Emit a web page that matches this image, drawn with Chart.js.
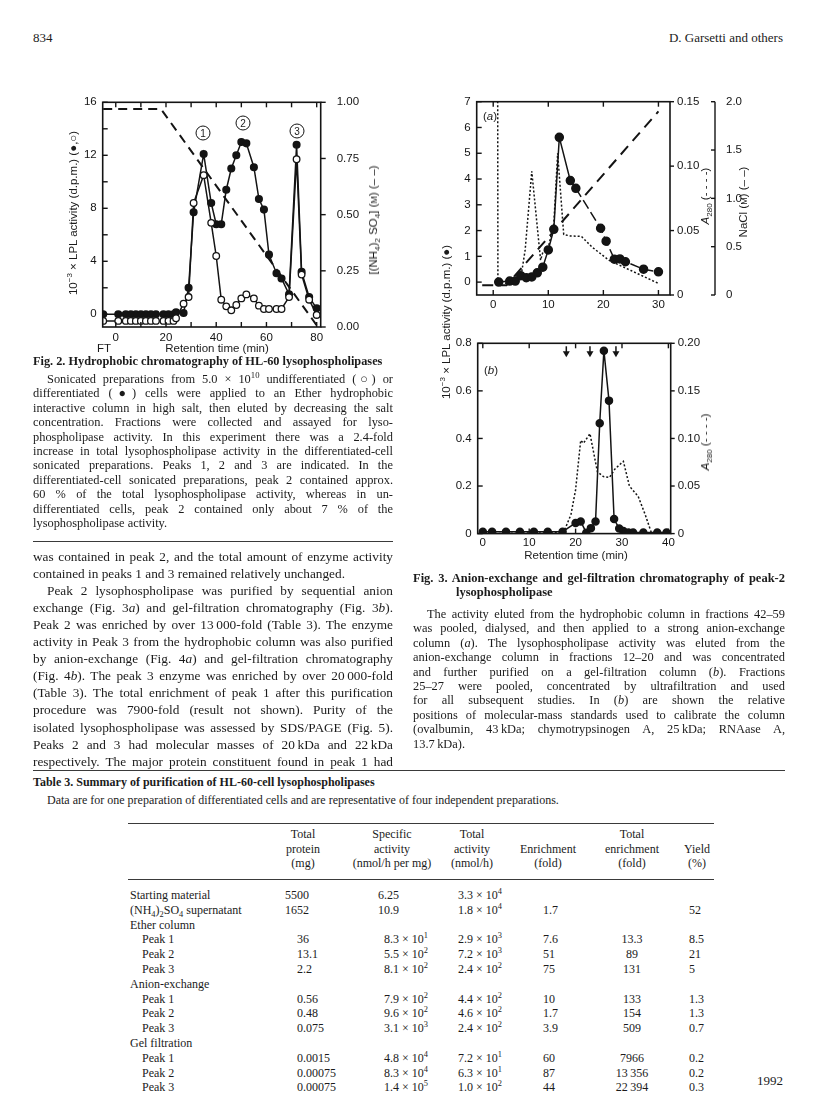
<!DOCTYPE html>
<html>
<head>
<meta charset="utf-8">
<script src="https://cdn.jsdelivr.net/npm/chart.js@4.4.1/dist/chart.umd.min.js"></script>
<style>
  body { margin:0; width:816px; height:1108px; position:relative; background:#fff; color:#1b1b1b;
         font-family:"Liberation Serif","Times New Roman",serif; overflow:hidden; }
  .a { position:absolute; white-space:nowrap; }
  .j { white-space:normal; text-align:justify; text-align-last:justify; }
  canvas { position:absolute; }
  .sans { font-family:"Liberation Sans",Arial,sans-serif; font-size:11.5px; }
  .rot { transform:translate(-50%,-50%) rotate(-90deg); }
  .mid { transform:translate(-50%,-50%); }
  .circ { position:absolute; width:13px; height:13px; border:1.2px solid #141414; border-radius:50%;
          font:10px "Liberation Sans",Arial,sans-serif; text-align:center; line-height:13px; transform:translate(-50%,-50%); }
  .rule { position:absolute; height:0; border-top:1px solid #3a3a3a; }
  sup, sub { font-size:70%; line-height:0; }
</style>
</head>
<body>

<div class="a" style="left:33px;top:30px;font-size:13px">834</div>
<div class="a" style="right:33px;top:30px;font-size:13px">D. Garsetti and others</div>

<canvas id="fig2" width="350" height="275" style="left:40px;top:88px"></canvas>
<canvas id="fig3a" width="345" height="230" style="left:420px;top:85px"></canvas>
<canvas id="fig3b" width="345" height="245" style="left:420px;top:330px"></canvas>

<!-- axis titles and marks around the charts -->
<div class="a sans rot" style="left:73px;top:213px">10<sup>−3</sup> × LPL activity (d.p.m.) (●,○)</div>
<div class="a sans rot" style="left:373px;top:220px">[(NH<sub>4</sub>)<sub>2</sub> SO<sub>4</sub>] (<span style="font-size:9px">M</span>) (– –)</div>
<div class="a sans mid" style="left:104px;top:348px">FT</div>
<div class="a sans mid" style="left:217px;top:348px">Retention time (min)</div>
<div class="circ" style="left:203px;top:133px">1</div>
<div class="circ" style="left:243px;top:123px">2</div>
<div class="circ" style="left:297px;top:131px">3</div>

<div class="a sans rot" style="left:446px;top:322px">10<sup>−3</sup> × LPL activity (d.p.m.) (●)</div>
<div class="a sans rot" style="left:705px;top:196px"><i>A</i><sub>280</sub> (- - - -)</div>
<div class="a sans rot" style="left:743px;top:202px">NaCl (<span style="font-size:9px">M</span>) (– –)</div>
<div class="a sans rot" style="left:705px;top:442px"><i>A</i><sub>280</sub> (- - - -)</div>
<div class="a sans mid" style="left:490px;top:116px">(<i>a</i>)</div>
<div class="a sans mid" style="left:491px;top:370px">(<i>b</i>)</div>
<div class="a sans mid" style="left:576px;top:555px">Retention time (min)</div>

<div id="text"></div>

<script>
// ---- Fig. 2: hydrophobic chromatography ----
const f2Time = [-5, 1, 4, 6, 8, 10, 12, 14, 16, 19, 21, 23, 24, 27, 29, 31, 35, 38, 40, 42, 44, 46, 48, 50, 52, 55, 57, 59, 61, 64, 66, 69, 72, 74, 77, 80];
const f2Differentiated = [0, 0, 0, 0, 0, 0, 0, 0, 0, 0, 0, 0, 0.15, 0.1, 2.0, 7.7, 12.1, 8.4, 6.8, 6.8, 9.4, 11.0, 12.0, 13.0, 12.9, 11.1, 8.7, 7.9, 4.5, 3.1, 2.7, 1.5, 12.8, 3.2, 1.3, 0.45];
const f2Undifferentiated = [-0.5, -0.5, -0.5, -0.5, -0.5, -0.5, -0.5, -0.5, -0.5, -0.5, -0.5, -0.5, -0.3, 0.8, 1.3, 8.4, 10.5, 6.9, 4.4, 1.1, 0.6, 0.3, 0.7, 1.2, 1.5, 1.2, 0.65, 0.4, 0.4, 0.4, 0.4, 1.3, 11.7, 3.0, 1.1, -0.05];
const f2SaltTime = [-5, 18, 80.5];
const f2Salt = [0.97, 0.97, 0.0];
const f2XTicks = [0, 10, 20, 30, 40, 50, 60, 70, 80];
const f2YTicks = [0, 2, 4, 6, 8, 10, 12, 14, 16];
const f2SaltTicks = [0, 0.25, 0.5, 0.75, 1.0];

// ---- Fig. 3(a): anion exchange ----
const f3aTime = [1, 3, 4, 5, 6, 7, 8, 9, 10, 11, 12, 14, 15, 19.5, 20.5, 22, 23, 24, 27.3, 30];
const f3aActivity = [0, 0.04, 0.04, 0.25, 0.17, 0.2, 0.36, 0.58, 1.25, 2.05, 5.62, 3.94, 3.64, 2.09, 1.59, 0.89, 0.9, 0.79, 0.5, 0.4];
const f3aA280Time = [0.8, 0.85, 2, 4, 5, 5.8, 7, 8.6, 9, 10, 11, 11.7, 12.8, 14, 16, 18, 21, 25, 30];
const f3aA280 = [0.2, 0.01, 0.009, 0.01, 0.013, 0.035, 0.096, 0.027, 0.033, 0.037, 0.055, 0.11, 0.047, 0.0458, 0.0455, 0.037, 0.027, 0.019, 0.009];
const f3aNaClTime = [-2, 2.4, 30];
const f3aNaCl = [0.1, 0.1, 1.9];
const f3aXTicks = [0, 10, 20, 30];
const f3aYTicks = [0, 1, 2, 3, 4, 5, 6, 7];
const f3aA280Ticks = [0, 0.05, 0.1, 0.15];
const f3aA280Labels = ['0', '0.05', '0.10', '0.15'];
const f3aNaClTicks = [0, 0.5, 1, 1.5, 2];
const f3aNaClLabels = ['0', '0.5', '1.0', '1.5', '2.0'];

// ---- Fig. 3(b): gel filtration ----
const f3bTime = [0, 2, 5, 8, 11, 14, 17.2, 20, 21.1, 22.3, 23.3, 24.3, 25.2, 26.1, 27.2, 28.3, 29.4, 30.3, 31.4, 32.4, 34.6, 37.6, 39.6];
const f3bActivity = [0.008, 0.008, 0.008, 0.008, 0.008, 0.008, 0.008, 0.045, 0.051, 0.004, 0.023, 0.051, 0.464, 0.769, 0.559, 0.061, 0.021, 0.011, 0.005, 0.005, 0.005, 0.005, 0.005];
const f3bA280Time = [0, 17.4, 19, 20, 21.1, 21.7, 23.1, 24.1, 24.7, 26, 27.3, 28.5, 30.3, 31.6, 33.5, 35, 36.4];
const f3bA280 = [0, 0.001, 0.02, 0.046, 0.098, 0.095, 0.105, 0.08, 0.065, 0.06, 0.059, 0.068, 0.076, 0.05, 0.039, 0.02, 0];
const f3bStandards = [18, 23.1, 28.7];
const f3bXTicks = [0, 10, 20, 30, 40];
const f3bYTicks = [0, 0.2, 0.4, 0.6, 0.8];
const f3bYLabels = ['0', '0.2', '0.4', '0.6', '0.8'];
const f3bA280Ticks = [0, 0.05, 0.1, 0.15, 0.2];
const f3bA280Labels = ['0', '0.05', '0.10', '0.15', '0.20'];

const ink = '#141414';
const tickFont = { family: 'Liberation Sans, Arial, sans-serif', size: 11.5 };
const pts = (xs, ys) => xs.map((x, i) => ({ x: x, y: ys[i] }));

// tick marks per chart, kept outside the Chart.js options
const frameMarks = {
  fig2: [
    { scale: 'y', side: 'left', len: 5 },
    { scale: 'x', side: 'top', len: 5 },
    { scale: 'x', side: 'bottom', len: 5 },
    { scale: 'y2', side: 'right', len: 5 }
  ],
  fig3a: [
    { scale: 'y', side: 'left', len: 5 },
    { scale: 'x', side: 'bottom', len: 5 },
    { scale: 'x', side: 'top', len: 5 },
    { scale: 'yA', side: 'right', len: 4 },
    { scale: 'yN', side: 'spine', len: 4 }
  ],
  fig3b: [
    { scale: 'y', side: 'left', len: 5 },
    { scale: 'x', side: 'bottom', len: 5 },
    { scale: 'x', side: 'top', len: 5 },
    { scale: 'yA', side: 'right', len: 4 }
  ]
};
const arrowMarks = { fig3b: f3bStandards };

// box round the plot, plus the tick marks the scan shows (mostly pointing inward)
const framePlugin = {
  id: 'frame',
  afterDraw(chart) {
    const ctx = chart.ctx, a = chart.chartArea;
    ctx.save();
    ctx.strokeStyle = ink;
    ctx.lineWidth = 1.6;
    ctx.strokeRect(a.left, a.top, a.right - a.left, a.bottom - a.top);
    ctx.lineWidth = 1.4;
    (frameMarks[chart.canvas.id] || []).forEach(m => {
      const s = chart.scales[m.scale];
      const vals = s.ticks.map(t => t.value);
      if (m.side === 'spine') {
        ctx.beginPath(); ctx.moveTo(s.left, a.top); ctx.lineTo(s.left, a.bottom); ctx.stroke();
      }
      vals.forEach(v => {
        const p = s.getPixelForValue(v);
        ctx.beginPath();
        if (m.side === 'left') { ctx.moveTo(a.left, p); ctx.lineTo(a.left + m.len, p); }
        if (m.side === 'right') { ctx.moveTo(a.right, p); ctx.lineTo(a.right + m.len, p); }
        if (m.side === 'bottom') { ctx.moveTo(p, a.bottom); ctx.lineTo(p, a.bottom - m.len); }
        if (m.side === 'top') { ctx.moveTo(p, a.top); ctx.lineTo(p, a.top + m.len); }
        if (m.side === 'spine') { ctx.moveTo(s.left, p); ctx.lineTo(s.left - m.len, p); }
        ctx.stroke();
      });
    });
    // downward arrows for the molecular-mass standards in (b)
    const xs = arrowMarks[chart.canvas.id];
    if (xs) {
      const top = a.top, sx = chart.scales.x;
      ctx.fillStyle = ink; ctx.lineWidth = 1.5;
      xs.forEach(v => {
        const p = sx.getPixelForValue(v);
        ctx.beginPath(); ctx.moveTo(p, top + 3); ctx.lineTo(p, top + 9); ctx.stroke();
        ctx.beginPath(); ctx.moveTo(p - 3.5, top + 8); ctx.lineTo(p + 3.5, top + 8); ctx.lineTo(p, top + 14); ctx.closePath(); ctx.fill();
      });
    }
    ctx.restore();
  }
};

function axis(pos, min, max, ticks, label, size, pad) {
  const vertical = pos === 'left' || pos === 'right';
  return {
    type: 'linear', position: pos, min: min, max: max,
    grid: { display: false, drawTicks: false }, border: { display: false },
    afterBuildTicks: s => { s.ticks = ticks.map(v => ({ value: v })); },
    afterFit: s => {
      if (vertical) {
        s.width = size;
        // label padding would otherwise push the plot area down
        s.paddingTop = 0; s.paddingBottom = 0;
      } else {
        s.height = size;
      }
    },
    ticks: { callback: label, padding: pad, autoSkip: false, maxRotation: 0, color: ink, font: tickFont }
  };
}

function chart(id, datasets, scales, padTop) {
  return new Chart(document.getElementById(id), {
    type: 'scatter',
    data: { datasets: datasets },
    options: {
      responsive: false, animation: false, devicePixelRatio: 1,
      layout: { padding: { top: padTop, left: 0, right: 0, bottom: 0 } },
      plugins: { legend: { display: false }, tooltip: { enabled: false } },
      scales: scales
    },
    plugins: [framePlugin]
  });
}

const line = (data, extra) => Object.assign({ data: data, showLine: true, borderColor: ink, borderWidth: 1.5, pointRadius: 0 }, extra);

chart('fig2', [
  line(pts(f2Time, f2Undifferentiated), { pointRadius: 3.3, pointBackgroundColor: '#fff', pointBorderColor: ink, pointBorderWidth: 1.3 }),
  line(pts(f2Time, f2Differentiated), { pointRadius: 3.3, pointBackgroundColor: ink, pointBorderColor: ink }),
  line(pts(f2SaltTime, f2Salt), { yAxisID: 'y2', borderDash: [9, 6], borderWidth: 2 })
], {
  x: axis('bottom', -5.2, 81.6, f2XTicks, v => (v % 20 === 0 ? v : ''), 36, 4),
  y: axis('left', -0.96, 16, f2YTicks, v => (v % 4 === 0 ? v : ''), 62.7, 6),
  y2: axis('right', 0, 1, f2SaltTicks, v => v.toFixed(2), 69.3, 16)
}, 14.3);

chart('fig3a', [
  line(pts(f3aTime, f3aActivity), { pointRadius: 4, pointBackgroundColor: ink,
    segment: { borderDash: c => (c.p0DataIndex >= 12 ? [10, 4] : undefined) } }),
  line(pts(f3aA280Time, f3aA280), { yAxisID: 'yA', borderDash: [2, 2], borderWidth: 1.5 }),
  line(pts(f3aNaClTime, f3aNaCl), { yAxisID: 'yN', borderDash: [11, 7], borderWidth: 2 })
], {
  x: axis('bottom', -3, 32.1, f3aXTicks, v => v, 20, 3),
  y: axis('left', -0.5, 7, f3aYTicks, v => v, 56.7, 6),
  yA: Object.assign(axis('right', 0, 0.15, f3aA280Ticks, (v, i) => f3aA280Labels[i], 45, 7), { weight: 0 }),
  yN: Object.assign(axis('right', 0, 2, f3aNaClTicks, (v, i) => f3aNaClLabels[i], 50, 11), { weight: 1 })
}, 16.7);

chart('fig3b', [
  line(pts(f3bTime, f3bActivity), { pointRadius: 3.5, pointBackgroundColor: ink }),
  line(pts(f3bA280Time, f3bA280), { yAxisID: 'yA', borderDash: [2, 2], borderWidth: 1.5 })
], {
  x: axis('bottom', -1.1, 40.5, f3bXTicks, v => v, 41.4, 2),
  y: axis('left', 0, 0.8, f3bYTicks, (v, i) => f3bYLabels[i], 57.7, 6),
  yA: axis('right', 0, 0.2, f3bA280Ticks, (v, i) => f3bA280Labels[i], 94.3, 7)
}, 13.3);

// ---- page text ----
const host = document.getElementById('text');
function block(lines, o) {
  lines.forEach((t, i) => {
    const d = document.createElement('div');
    const ind = i === 0 && o.indent ? o.indent : 0;
    d.className = 'a' + ((i < lines.length - 1 || o.justLast) ? ' j' : '');
    d.style.cssText = 'left:' + (o.x + ind) + 'px;top:' + (o.y + i * o.lh) + 'px;width:' + (o.w - ind) +
      'px;font-size:' + o.size + 'px;line-height:' + o.lh + 'px;' + (o.bold ? 'font-weight:bold;' : '') + (o.align ? 'text-align:' + o.align + ';' : '');
    d.innerHTML = t;
    host.appendChild(d);
  });
}
function rule(x, y, w) {
  const d = document.createElement('div');
  d.className = 'rule';
  d.style.cssText = 'left:' + x + 'px;top:' + y + 'px;width:' + w + 'px';
  host.appendChild(d);
}

block(['Fig. 2. Hydrophobic chromatography of HL-60 lysophospholipases'], { x: 33, y: 354, w: 360, lh: 14, size: 12.3, bold: true });
block([
  'Sonicated preparations from 5.0 × 10<sup>10</sup> undifferentiated (○) or',
  'differentiated (●) cells were applied to an Ether hydrophobic',
  'interactive column in high salt, then eluted by decreasing the salt',
  'concentration. Fractions were collected and assayed for lyso-',
  'phospholipase activity. In this experiment there was a 2.4-fold',
  'increase in total lysophospholipase activity in the differentiated-cell',
  'sonicated preparations. Peaks 1, 2 and 3 are indicated. In the',
  'differentiated-cell sonicated preparations, peak 2 contained approx.',
  '60 % of the total lysophospholipase activity, whereas in un-',
  'differentiated cells, peak 2 contained only about 7 % of the',
  'lysophospholipase activity.'
], { x: 33, y: 372, w: 360, lh: 14.4, size: 12.4, indent: 14 });
rule(33, 541, 360);

block([
  'was contained in peak 2, and the total amount of enzyme activity',
  'contained in peaks 1 and 3 remained relatively unchanged.'
], { x: 33, y: 547.5, w: 360, lh: 17.1, size: 13.3 });
block([
  'Peak 2 lysophospholipase was purified by sequential anion',
  'exchange (Fig. 3<i>a</i>) and gel-filtration chromatography (Fig. 3<i>b</i>).',
  'Peak 2 was enriched by over 13\u2009000-fold (Table 3). The enzyme',
  'activity in Peak 3 from the hydrophobic column was also purified',
  'by anion-exchange (Fig. 4<i>a</i>) and gel-filtration chromatography',
  '(Fig. 4<i>b</i>). The peak 3 enzyme was enriched by over 20\u2009000-fold',
  '(Table 3). The total enrichment of peak 1 after this purification',
  'procedure was 7900-fold (result not shown). Purity of the',
  'isolated lysophospholipase was assessed by SDS/PAGE (Fig. 5).',
  'Peaks 2 and 3 had molecular masses of 20\u2009kDa and 22\u2009kDa',
  'respectively. The major protein constituent found in peak 1 had'
], { x: 33, y: 547.5 + 2 * 17.1, w: 360, lh: 17.1, size: 13.3, indent: 14, justLast: true });

block(['Fig. 3. Anion-exchange and gel-filtration chromatography of peak-2'], { x: 413, y: 571, w: 372, lh: 14, size: 12.5, bold: true, justLast: true });
block(['lysophospholipase'], { x: 456, y: 585, w: 300, lh: 14, size: 12.5, bold: true });
block([
  'The activity eluted from the hydrophobic column in fractions 42–59',
  'was pooled, dialysed, and then applied to a strong anion-exchange',
  'column (<i>a</i>). The lysophospholipase activity was eluted from the',
  'anion-exchange column in fractions 12–20 and was concentrated',
  'and further purified on a gel-filtration column (<i>b</i>). Fractions',
  '25–27 were pooled, concentrated by ultrafiltration and used',
  'for all subsequent studies. In (<i>b</i>) are shown the relative',
  'positions of molecular-mass standards used to calibrate the column',
  '(ovalbumin, 43\u2009kDa; chymotrypsinogen A, 25\u2009kDa; RNAase A,',
  '13.7\u2009kDa).'
], { x: 413, y: 607, w: 372, lh: 14.4, size: 12.4, indent: 14 });
rule(33, 770, 752);

// ---- Table 3 ----
block(['Table 3. Summary of purification of HL-60-cell lysophospholipases'], { x: 33, y: 775, w: 600, lh: 14, size: 12, bold: true });
block(['Data are for one preparation of differentiated cells and are representative of four independent preparations.'], { x: 47, y: 793, w: 720, lh: 14, size: 12 });
rule(128, 823, 586);
rule(128, 879, 586);

const tableHead = [
  ['Total', 'protein', '(mg)'], ['Specific', 'activity', '(nmol/h per mg)'], ['Total', 'activity', '(nmol/h)'],
  ['', 'Enrichment', '(fold)'], ['Total', 'enrichment', '(fold)'], ['', 'Yield', '(%)']
];
const headCentre = [303, 392, 472, 548, 632, 697];
tableHead.forEach((h, c) => h.forEach((t, r) => {
  const d = document.createElement('div');
  d.className = 'a mid';
  d.style.cssText = 'left:' + headCentre[c] + 'px;top:' + (834 + r * 14.5) + 'px;font-size:12px';
  d.textContent = t;
  host.appendChild(d);
}));

const e = (m, p) => m + ' × 10<sup>' + p + '</sup>';
const tableRows = [
  ['Starting material', 0, '5500', '6.25', e('3.3', 4), '', '', ''],
  ['(NH<sub>4</sub>)<sub>2</sub>SO<sub>4</sub> supernatant', 0, '1652', '10.9', e('1.8', 4), '1.7', '', '52'],
  ['Ether column', 0, '', '', '', '', '', ''],
  ['Peak 1', 1, '36', e('8.3', 1), e('2.9', 3), '7.6', '13.3', '8.5'],
  ['Peak 2', 1, '13.1', e('5.5', 2), e('7.2', 3), '51', '89', '21'],
  ['Peak 3', 1, '2.2', e('8.1', 2), e('2.4', 2), '75', '131', '5'],
  ['Anion-exchange', 0, '', '', '', '', '', ''],
  ['Peak 1', 1, '0.56', e('7.9', 2), e('4.4', 2), '10', '133', '1.3'],
  ['Peak 2', 1, '0.48', e('9.6', 2), e('4.6', 2), '1.7', '154', '1.3'],
  ['Peak 3', 1, '0.075', e('3.1', 3), e('2.4', 2), '3.9', '509', '0.7'],
  ['Gel filtration', 0, '', '', '', '', '', ''],
  ['Peak 1', 1, '0.0015', e('4.8', 4), e('7.2', 1), '60', '7966', '0.2'],
  ['Peak 2', 1, '0.00075', e('8.3', 4), e('6.3', 1), '87', '13\u2009356', '0.2'],
  ['Peak 3', 1, '0.00075', e('1.4', 5), e('1.0', 2), '44', '22\u2009394', '0.3']
];
const colLeft = [297, 384, 458, 543, null, 689];
tableRows.forEach((row, r) => {
  const y = 888 + r * 14.8;
  const put = (html, style) => {
    const d = document.createElement('div');
    d.className = 'a';
    d.style.cssText = 'top:' + y + 'px;font-size:12px;line-height:14px;' + style;
    d.innerHTML = html;
    host.appendChild(d);
  };
  put(row[0], 'left:' + (row[1] ? 142 : 130) + 'px');
  row.slice(2).forEach((v, c) => {
    if (!v) return;
    if (colLeft[c] === null) { put(v, 'left:632px;transform:translateX(-50%)'); return; }
    let x = colLeft[c];
    if (r < 2 && c === 0) x = 285;
    if (r < 2 && c === 1) x = 378;
    put(v, 'left:' + x + 'px');
  });
});
block(['1992'], { x: 683, y: 1074, w: 100, lh: 14, size: 13, align: 'right' });
</script>
</body>
</html>
